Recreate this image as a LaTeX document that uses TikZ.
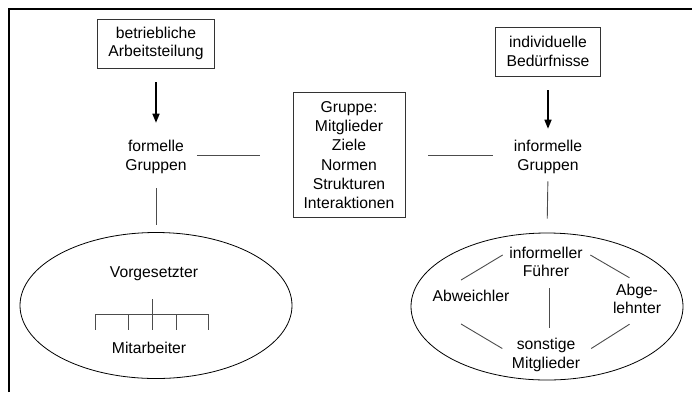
\documentclass[tikz,border=0pt]{standalone}
\usepackage{fontspec}
\setmainfont{Liberation Sans}
\usetikzlibrary{shapes.geometric,arrows.meta}

\begin{document}
\begin{tikzpicture}[x=1pt,y=-1pt]
\tikzset{ every node/.style={font=\fontsize{15.7}{18.5}\selectfont, align=center, inner sep=0pt},
  kasten/.style={draw=black!80, line width=0.8pt},
  oval/.style={ellipse, draw, line width=0.8pt, minimum width=272pt, minimum height=146pt},
  linie/.style={black!70, line width=0.9pt},
  pfeil/.style={-{Triangle[width=7pt,length=9pt]}, line width=1.5pt},
}
\useasboundingbox (0,0) rectangle (692,392);

% Rahmen oben und links
\draw [line width=2.5pt] (9,392) -- (9,9) -- (692,9);

% Ursachen
\node [kasten, minimum width=117pt, minimum height=49pt] (BA) at (156,43.5) {betriebliche\\Arbeitsteilung};
\node [kasten, minimum width=105pt, minimum height=49pt] (IB) at (548,51.5) {individuelle\\Bedürfnisse};

% Gruppenarten
\node (FG) at (156,157) {formelle\\Gruppen};
\node (IG) at (548,157) {informelle\\Gruppen};

\node [kasten, minimum width=112pt, minimum height=125pt, font=\fontsize{15.7}{19.3}\selectfont] (GR) at (349,155.2)
  {Gruppe:\\Mitglieder\\Ziele\\Normen\\Strukturen\\Interaktionen};

\draw [pfeil, shorten <=14pt, shorten >=17.5pt] (BA.south) -- (FG.north);
\draw [pfeil, shorten <=14pt, shorten >=11.5pt] (IB.south) -- (IG.north);

\draw [linie, shorten <=10pt, shorten >=33pt] (FG.east |- GR) -- (GR.west);
\draw [linie, shorten <=23pt, shorten >=21pt] (GR.east) -- (GR -| IG.west);

% formelle Gruppe
\node [oval] (LE) at (156,305.5) {};
\draw [linie, shorten <=14.5pt, shorten >=7pt] (FG.south) -- (LE.north);

\node (VG) at (154,274) {Vorgesetzter};
\node (MA) at (149,347.5) {Mitarbeiter};

\draw [linie] (152,299) -- (152,314);
\draw [linie] (95,314) -- (208,314);
\foreach \x in {95,128,152,176,208}
  \draw [linie] (\x,314) -- (\x,330);

% informelle Gruppe
\node [oval, minimum height=147pt] (RE) at (547,306.5) {};
\draw [linie, shorten <=7.5pt, shorten >=14pt] (IG.south) -- (RE.north);

\node (IF) at (546,262) {informeller\\Führer};
\node (AW) at (471,296) {Abweichler};
\node (AL) at (637,299) {Abge-\\lehnter};
\node (SM) at (546,355) {sonstige\\Mitglieder};

\draw [linie] ([shift={(-10,-10)}]AW.north) -- ([shift={(-6.5,-7)}]IF.west);
\draw [linie] ([shift={(7.5,-7)}]IF.east) -- ([shift={(-7.5,-6)}]AL.north);
\draw [linie] ([shift={(-10,22)}]AW.south) -- ([shift={(-9.5,-6.5)}]SM.west);
\draw [linie] ([shift={(11,-6.5)}]SM.east) -- ([shift={(-7.5,10)}]AL.south);
\draw [linie, shorten <=11pt, shorten >=10pt] ([xshift=3pt]IF.south) -- ([xshift=3pt]SM.north);

\end{tikzpicture}
\end{document}
